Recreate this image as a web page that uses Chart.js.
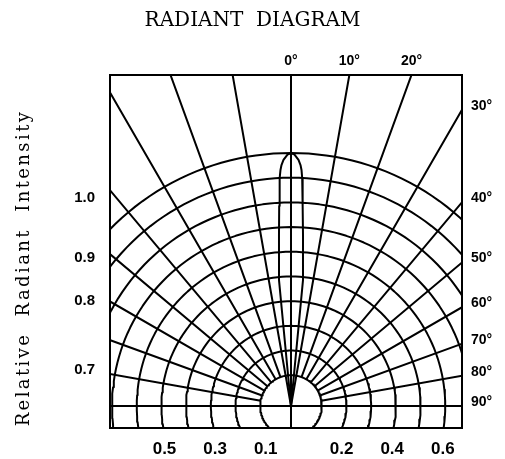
<!doctype html>
<html lang="en">
  <head>
    <meta charset="utf-8">
    <title>Radiant diagram</title>
    <script src="https://cdn.jsdelivr.net/npm/chart.js@4.4.0/dist/chart.umd.min.js"></script>
    <style>
      body { margin: 0; background: #fff; }
    </style>
  </head>
  <body>
    <canvas id="radiant" width="505" height="459"></canvas>

    <script>
      // grid: relative intensity rings and angle rays
      var rings = [0.1, 0.2, 0.3, 0.4, 0.5, 0.6, 0.7, 0.8, 0.9, 1.0];
      var rayAngles = [-90, -80, -70, -60, -50, -40, -30, -20, -10, 0, 10, 20, 30, 40, 50, 60, 70, 80, 90];

      // emission lobe, one half (symmetric): angle in degrees, relative intensity
      var lobeAngles = [0, 0.8, 1.75, 2.26, 2.55, 2.81, 2.99, 3.38, 4.04, 4.9, 5.44, 5.44];
      var lobeValues = [1.0, 0.994, 0.973, 0.953, 0.934, 0.902, 0.871, 0.792, 0.674, 0.555, 0.5, 0];

      // tick labels
      var bottomTicks = [-0.5, -0.3, -0.1, 0.2, 0.4, 0.6];
      var topTickAngles = [0, 10, 20];
      var rightTickAngles = [30, 40, 50, 60, 70, 80, 90];
      var leftTickLabels = ["1.0", "0.9", "0.8", "0.7"];
      var leftTickValues = [0.822, 0.585, 0.415, 0.142];

      var X_MIN = -0.7154, X_MAX = 0.6759;
      var Y_MIN = -0.087, Y_MAX = 1.3083;
      var RING_SHIFT = 0.024;

      function toXY(deg, r) {
        var a = deg * Math.PI / 180;
        return { x: r * Math.sin(a), y: r * Math.cos(a) };
      }
      function ringRadius(v) {
        return RING_SHIFT + (1 - RING_SHIFT) * v;
      }
      var GAP = { x: null, y: null };

      // rings
      var ringPts = [];
      rings.forEach(function (v) {
        for (var a = -180; a <= 180; a += 2) ringPts.push(toXY(a, ringRadius(v)));
        ringPts.push(GAP);
      });

      // rays
      var rayPts = [];
      rayAngles.forEach(function (a) {
        var start = (Math.abs(a) <= 10 || Math.abs(a) == 90) ? 0 : ringRadius(rings[0]);
        if (a == 0) start = -0.3;
        rayPts.push(toXY(a, start));
        rayPts.push(toXY(a, 2));
        rayPts.push(GAP);
      });

      // lobe: left half reversed then right half
      var lobePts = [];
      for (var i = lobeAngles.length - 1; i >= 0; i--) lobePts.push(toXY(-lobeAngles[i], lobeValues[i]));
      for (var j = 1; j < lobeAngles.length; j++) lobePts.push(toXY(lobeAngles[j], lobeValues[j]));

      var tickFont = { family: "'Liberation Sans', Arial, sans-serif", weight: "bold" };

      var titlesPlugin = {
        id: "yTitle",
        afterDraw: function (chart) {
          var ctx = chart.ctx;
          ctx.save();
          ctx.fillStyle = "#000";
          ctx.font = "18px 'DejaVu Serif'";
          ctx.textAlign = "center";
          ctx.textBaseline = "middle";
          ctx.translate(24, 268);
          ctx.rotate(-Math.PI / 2);
          if ("letterSpacing" in ctx) ctx.letterSpacing = "2.4px";
          ctx.fillText("Relative  Radiant  Intensity", 0, 0);
          ctx.restore();
        }
      };

      function lineSet(pts) {
        return {
          data: pts,
          showLine: true,
          borderColor: "#000",
          borderWidth: 2,
          pointRadius: 0,
          borderJoinStyle: "round",
          tension: 0
        };
      }

      var noGrid = { display: false, drawTicks: false, tickLength: 0 };
      var box = { display: true, color: "#000", width: 2 };

      var ctx = document.getElementById("radiant").getContext("2d");
      var chart = new Chart(ctx, {
        type: "scatter",
        data: {
          datasets: [lineSet(ringPts), lineSet(rayPts), lineSet(lobePts)]
        },
        plugins: [titlesPlugin],
        options: {
          responsive: false,
          animation: false,
          devicePixelRatio: 1,
          layout: { padding: 0 },
          plugins: {
            legend: { display: false },
            tooltip: { enabled: false },
            title: {
              display: true,
              text: "RADIANT  DIAGRAM",
              color: "#000",
              font: { family: "'DejaVu Serif'", size: 20, weight: "normal", lineHeight: 1.2 },
              padding: { top: 9, bottom: 0 }
            }
          },
          scales: {
            x: {
              type: "linear", position: "bottom", min: X_MIN, max: X_MAX,
              grid: noGrid, border: box,
              afterBuildTicks: function (s) { s.ticks = bottomTicks.map(function (v) { return { value: v }; }); },
              afterFit: function (s) { s.height = 31; },
              ticks: {
                color: "#000", padding: 11, autoSkip: false, maxRotation: 0,
                font: Object.assign({ size: 17 }, tickFont),
                callback: function (v) { return Math.abs(v).toFixed(1); }
              }
            },
            xTop: {
              type: "linear", position: "top", min: X_MIN, max: X_MAX,
              grid: noGrid, border: box,
              afterBuildTicks: function (s) {
                s.ticks = topTickAngles.map(function (a) { return { value: Y_MAX * Math.tan(a * Math.PI / 180) }; });
              },
              afterFit: function (s) { s.height = 75 - 33; },
              ticks: {
                color: "#000", padding: 5, autoSkip: false, maxRotation: 0,
                font: Object.assign({ size: 14 }, tickFont),
                callback: function (v, i) { return topTickAngles[i] + "°"; }
              }
            },
            y: {
              type: "linear", position: "left", min: Y_MIN, max: Y_MAX,
              grid: noGrid, border: box,
              afterBuildTicks: function (s) { s.ticks = leftTickValues.map(function (v) { return { value: v }; }); },
              afterFit: function (s) { s.width = 110; },
              ticks: {
                color: "#000", padding: 15, autoSkip: false,
                font: Object.assign({ size: 15 }, tickFont),
                callback: function (v, i) { return leftTickLabels[i]; }
              }
            },
            yRight: {
              type: "linear", position: "right", min: Y_MIN, max: Y_MAX,
              grid: noGrid, border: box,
              afterBuildTicks: function (s) {
                s.ticks = rightTickAngles.map(function (a) { return { value: X_MAX / Math.tan(a * Math.PI / 180) }; });
              },
              afterFit: function (s) { s.width = 43; },
              ticks: {
                color: "#000", padding: 9, autoSkip: false, labelOffset: -4,
                font: Object.assign({ size: 14 }, tickFont),
                callback: function (v, i) { return rightTickAngles[i] + "°"; }
              }
            }
          }
        }
      });
    </script>
  </body>
</html>
